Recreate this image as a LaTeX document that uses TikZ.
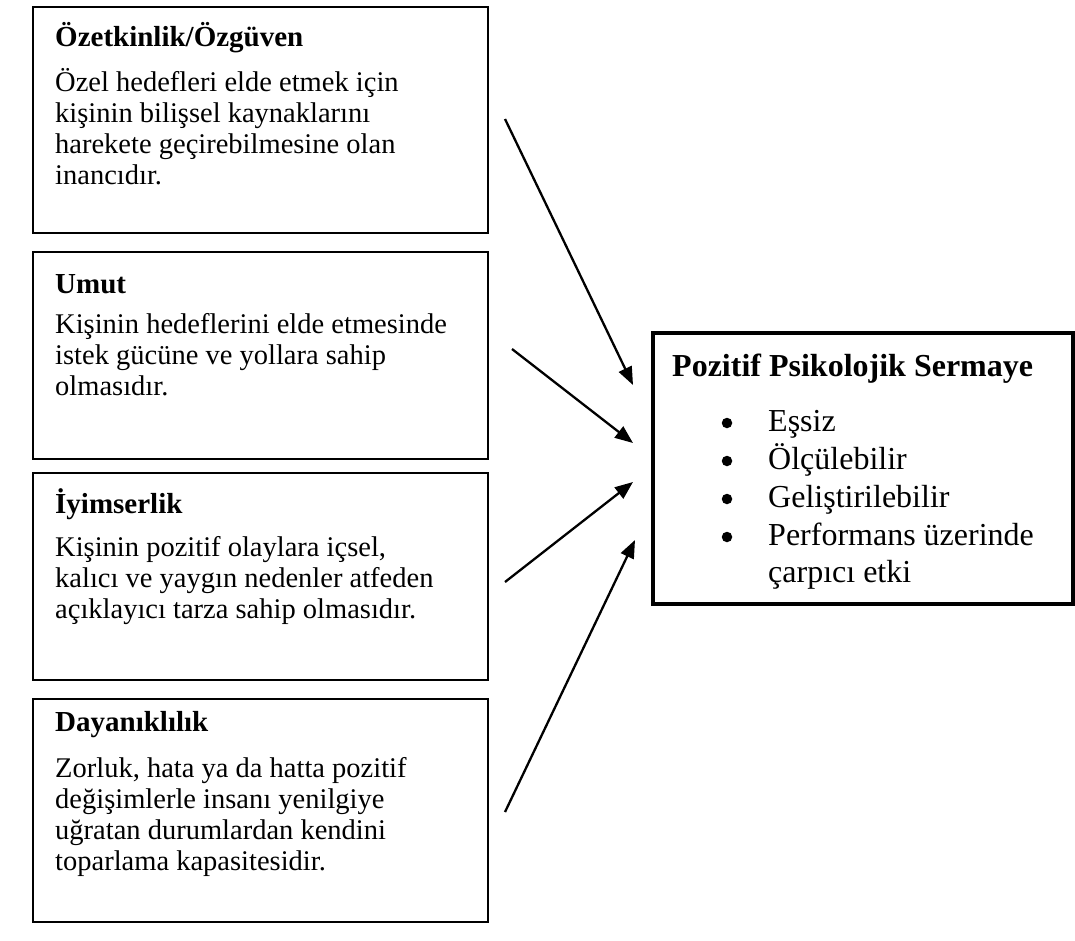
\documentclass[tikz,border=0pt]{standalone}
\usepackage{fontspec}
\setmainfont{Liberation Serif}
\usetikzlibrary{arrows.meta}
\begin{document}
\begin{tikzpicture}[x=1pt,y=-1pt,
  card/.style={draw, line width=2.2pt, inner sep=0pt, anchor=north west},
  bigcard/.style={card, line width=3.6pt},
  heading/.style={font=\fontsize{29}{31}\selectfont\bfseries, anchor=base west, inner sep=0pt},
  body/.style={font=\fontsize{28.5}{31}\selectfont, anchor=base west, inner sep=0pt},
  title/.style={font=\fontsize{32}{37}\selectfont\bfseries, anchor=base west, inner sep=0pt},
  item/.style={font=\fontsize{32}{37}\selectfont, anchor=base west, inner sep=0pt},
  dot/.style={circle, fill, draw=none, inner sep=0pt, minimum size=10.5pt},
  link/.style={line width=2.3pt, -{Triangle[length=18pt,width=14pt]}}
]
\useasboundingbox (0,0) rectangle (1075,940);

% four component boxes on the left
\node[card, minimum width=455pt, minimum height=226pt] (c1) at (32,6) {};
\node[card, minimum width=455pt, minimum height=207pt] (c2) at (32,251) {};
\node[card, minimum width=455pt, minimum height=207pt] (c3) at (32,472) {};
\node[card, minimum width=455pt, minimum height=223pt] (c4) at (32,698) {};

% self-efficacy
\node[heading] (c1h) at (55,46) {Özetkinlik/Özgüven};
\node[body] (c1a) at (55,91)  {Özel hedefleri elde etmek için};
\node[body] (c1b) at (55,122) {kişinin bilişsel kaynaklarını};
\node[body] (c1c) at (55,153) {harekete geçirebilmesine olan};
\node[body] (c1d) at (55,184) {inancıdır.};

% hope
\node[heading] (c2h) at (55,293) {Umut};
\node[body] (c2a) at (55,333) {Kişinin hedeflerini elde etmesinde};
\node[body] (c2b) at (55,364) {istek gücüne ve yollara sahip};
\node[body] (c2c) at (55,395) {olmasıdır.};

% optimism
\node[heading] (c3h) at (55,513) {İyimserlik};
\node[body] (c3a) at (55,556) {Kişinin pozitif olaylara içsel,};
\node[body] (c3b) at (55,587) {kalıcı ve yaygın nedenler atfeden};
\node[body] (c3c) at (55,618) {açıklayıcı tarza sahip olmasıdır.};

% resilience
\node[heading] (c4h) at (55,731) {Dayanıklılık};
\node[body] (c4a) at (55,777) {Zorluk, hata ya da hatta pozitif};
\node[body] (c4b) at (55,808) {değişimlerle insanı yenilgiye};
\node[body] (c4c) at (55,839) {uğratan durumlardan kendini};
\node[body] (c4d) at (55,870) {toparlama kapasitesidir.};

% psychological capital
\node[bigcard, minimum width=420pt, minimum height=271pt] (pc) at (651,331) {};
\node[title] (pct) at (672,376) {Pozitif Psikolojik Sermaye};
\node[dot] (d1) at (727,423) {};
\node[dot] (d2) at (727,461) {};
\node[dot] (d3) at (727,499) {};
\node[dot] (d4) at (727,537) {};
\node[item] (p1) at (768,431) {Eşsiz};
\node[item] (p2) at (768,469) {Ölçülebilir};
\node[item] (p3) at (768,507) {Geliştirilebilir};
\node[item] (p4) at (768,545) {Performans üzerinde};
\node[item] (p5) at (768,582) {çarpıcı etki};

% arrows into the capital box
\coordinate (s1) at (505,119);
\coordinate (t1) at (633,385);
\coordinate (s2) at (512,349);
\coordinate (t2) at (633,443);
\coordinate (s3) at (505,582);
\coordinate (t3) at (633,482);
\coordinate (s4) at (505,812);
\coordinate (t4) at (635,540);
\draw[link] (s1) -- (t1);
\draw[link] (s2) -- (t2);
\draw[link] (s3) -- (t3);
\draw[link] (s4) -- (t4);
\end{tikzpicture}
\end{document}
